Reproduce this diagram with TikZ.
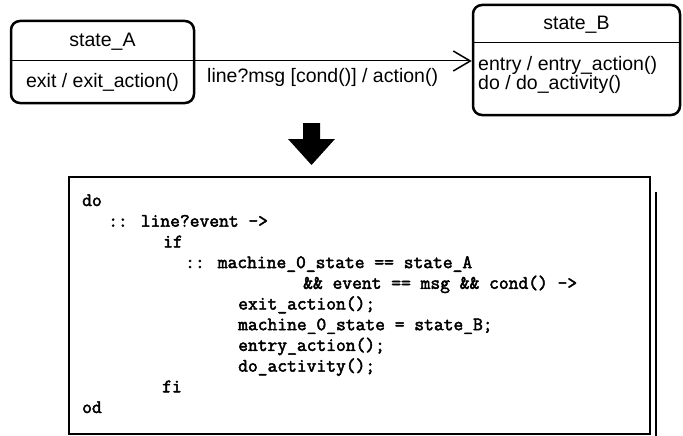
\documentclass[tikz,border=0pt]{standalone}
\usepackage{fontspec}
\setmainfont{Liberation Sans}
\newfontfamily\codefont{Latin Modern Mono}[FakeBold=2.5]
\usetikzlibrary{arrows.meta}
\begin{document}
\begin{tikzpicture}[x=1pt,y=-1pt,
  statebox/.style={draw, line width=2.5pt, rounded corners=9pt, inner sep=0pt},
  lbl/.style={font=\fontsize{19.5}{22}\selectfont, inner sep=0pt},
  codeline/.style={font=\codefont\fontsize{19}{20}\selectfont, anchor=base west, inner sep=0pt},
]
\useasboundingbox (0,0) rectangle (683,436);

% ---- state machine ----
\node[statebox, minimum width=183pt, minimum height=82pt] (A) at (102.5,62) {};
\draw[line width=1pt] (11,61) -- (194,61);
\node[lbl] (Aname) at (102.5,42) {state\_A};
\node[lbl] (Aexit) at (102.5,82) {exit / exit\_action()};

\node[statebox, minimum width=207pt, minimum height=110pt] (B) at (576.5,60) {};
\draw[line width=1pt] (473,43) -- (680,43);
\node[lbl] (Bname) at (576.5,25) {state\_B};
\node[lbl, anchor=west] (Bentry) at (478,65) {entry / entry\_action()};
\node[lbl, anchor=west] (Bdo) at (478,84) {do / do\_activity()};

\coordinate (t) at (0,61);
\draw[line width=1pt, -{Straight Barb[length=17pt,width=20pt,line width=1.5pt]}]
  (A.east |- t) -- (B.west |- t);
\node[lbl, anchor=west] (trans) at (207,77) {line?msg [cond()] / action()};

% ---- translation arrow ----
\fill (303,123) -- (320,123) -- (320,139) -- (335,139) -- (311.5,165)
  -- (288,139) -- (303,139) -- cycle;

% ---- generated code ----
\node[draw, line width=1.5pt, minimum width=581pt, minimum height=257pt, inner sep=0pt]
  (code) at (359.5,305.5) {};
\draw[line width=1.5pt] (656,192) -- (656,436);

\node[codeline] (l0) at (82,206)    {do};
\node[codeline] (l1) at (108,226.7) {:: line?event ->};
\node[codeline] (l2) at (163,247.4) {if};
\node[codeline] (l3) at (185,268.1) {:: machine\_0\_state == state\_A};
\node[codeline] (l4) at (303,288.8) {\&\& event == msg \&\& cond() ->};
\node[codeline] (l5) at (238,309.5) {exit\_action();};
\node[codeline] (l6) at (238,330.2) {machine\_0\_state = state\_B;};
\node[codeline] (l7) at (238,350.9) {entry\_action();};
\node[codeline] (l8) at (238,371.6) {do\_activity();};
\node[codeline] (l9) at (162,392.3) {fi};
\node[codeline] (l10) at (82,413)   {od};
\end{tikzpicture}
\end{document}
